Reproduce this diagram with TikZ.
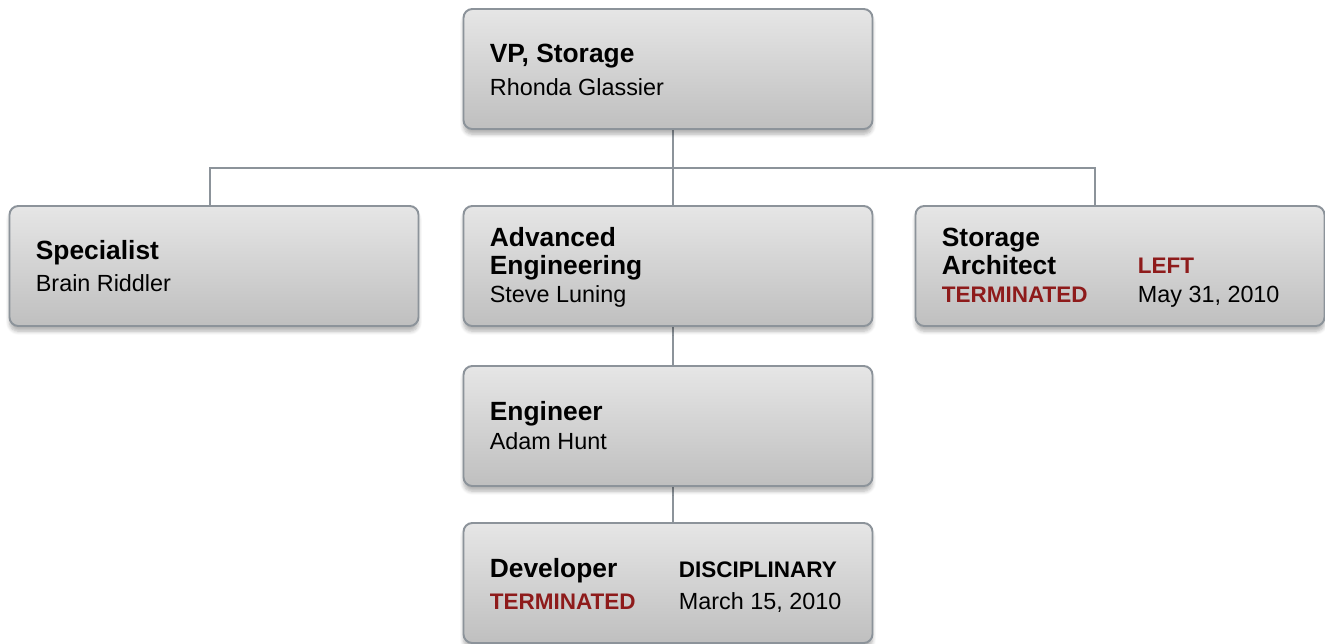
\documentclass[tikz,border=0pt]{standalone}
\usepackage{fontspec}
\setmainfont{Liberation Sans}
\usepackage{tikz}
\usetikzlibrary{positioning, calc, backgrounds, shadows.blur}

\definecolor{cardtop}{HTML}{E6E6E6}
\definecolor{cardbot}{HTML}{BFBFBF}
\definecolor{cardline}{HTML}{8C939A}
\definecolor{termred}{HTML}{8E1B1B}

\tikzset{
	card/.style={draw=cardline, line width=1.1pt, rounded corners=5pt, top color=cardtop, bottom color=cardbot,
		minimum width=8.18cm, minimum height=2.4cm, inner sep=0pt,
		blur shadow={shadow xshift=0pt, shadow yshift=-3pt, shadow blur steps=6, shadow opacity=30}},
	wire/.style={draw=cardline, line width=1.1pt},
	title/.style={anchor=base west, inner sep=0pt, font=\fontsize{15}{18}\selectfont\bfseries},
	who/.style={anchor=base west, inner sep=0pt, font=\fontsize{13.3}{16}\selectfont},
	status/.style={anchor=base west, inner sep=0pt, font=\fontsize{12.8}{15}\selectfont\bfseries},
}

\begin{document}
\begin{tikzpicture}
	\useasboundingbox (0,0) rectangle (26.5,-12.86);

	\node[card] (vp) at (13.36, -1.38) {};
	\node[card] (spec) at (4.28, -5.32) {};
	\node[card] (adv) at (13.36, -5.32) {};
	\node[card] (arch) at (22.40, -5.32) {};
	\node[card] (eng) at (13.36, -8.52) {};
	\node[card] (dev) at (13.36, -11.66) {};

	% connectors
	\begin{scope}[on background layer]
		\coordinate (bus) at ($(vp.south) + (0.1, -0.76)$);
		\draw [wire] ([xshift=1mm]vp.south) -- (bus);
		\draw [wire] ([xshift=-0.8mm]spec.north) |- (bus) -| ([xshift=-5mm]arch.north);
		\draw [wire] (bus) -- ([xshift=1mm]adv.north);
		\draw [wire] ([xshift=1mm]adv.south) -- ([xshift=1mm]eng.north);
		\draw [wire] ([xshift=1mm]eng.south) -- ([xshift=1mm]dev.north);
	\end{scope}

	\node[title] (vp t) at ($ (vp.north west) + (0.54, -1.08) $) {VP, Storage};
	\node[who] (vp n) at ($ (vp.north west) + (0.54, -1.74) $) {Rhonda Glassier};

	\node[title] (spec t) at ($ (spec.north west) + (0.54, -1.08) $) {Specialist};
	\node[who] (spec n) at ($ (spec.north west) + (0.54, -1.72) $) {Brain Riddler};

	\node[title] (adv t1) at ($ (adv.north west) + (0.54, -0.82) $) {Advanced};
	\node[title] (adv t2) at ($ (adv.north west) + (0.54, -1.38) $) {Engineering};
	\node[who] (adv n) at ($ (adv.north west) + (0.54, -1.94) $) {Steve Luning};

	\node[title] (arch t1) at ($ (arch.north west) + (0.54, -0.82) $) {Storage};
	\node[title] (arch t2) at ($ (arch.north west) + (0.54, -1.38) $) {Architect};
	\node[status, text=termred] (arch s) at ($ (arch.north west) + (0.54, -1.94) $) {TERMINATED};
	\node[status, text=termred] (arch r) at ($ (arch.north west) + (4.46, -1.36) $) {LEFT};
	\node[who] (arch d) at ($ (arch.north west) + (4.46, -1.94) $) {May 31, 2010};

	\node[title] (eng t) at ($ (eng.north west) + (0.54, -1.10) $) {Engineer};
	\node[who] (eng n) at ($ (eng.north west) + (0.54, -1.68) $) {Adam Hunt};

	\node[title] (dev t) at ($ (dev.north west) + (0.54, -1.10) $) {Developer};
	\node[status, text=termred] (dev s) at ($ (dev.north west) + (0.54, -1.74) $) {TERMINATED};
	\node[status] (dev r) at ($ (dev.north west) + (4.32, -1.10) $) {DISCIPLINARY};
	\node[who] (dev d) at ($ (dev.north west) + (4.32, -1.74) $) {March 15, 2010};
\end{tikzpicture}
\end{document}
